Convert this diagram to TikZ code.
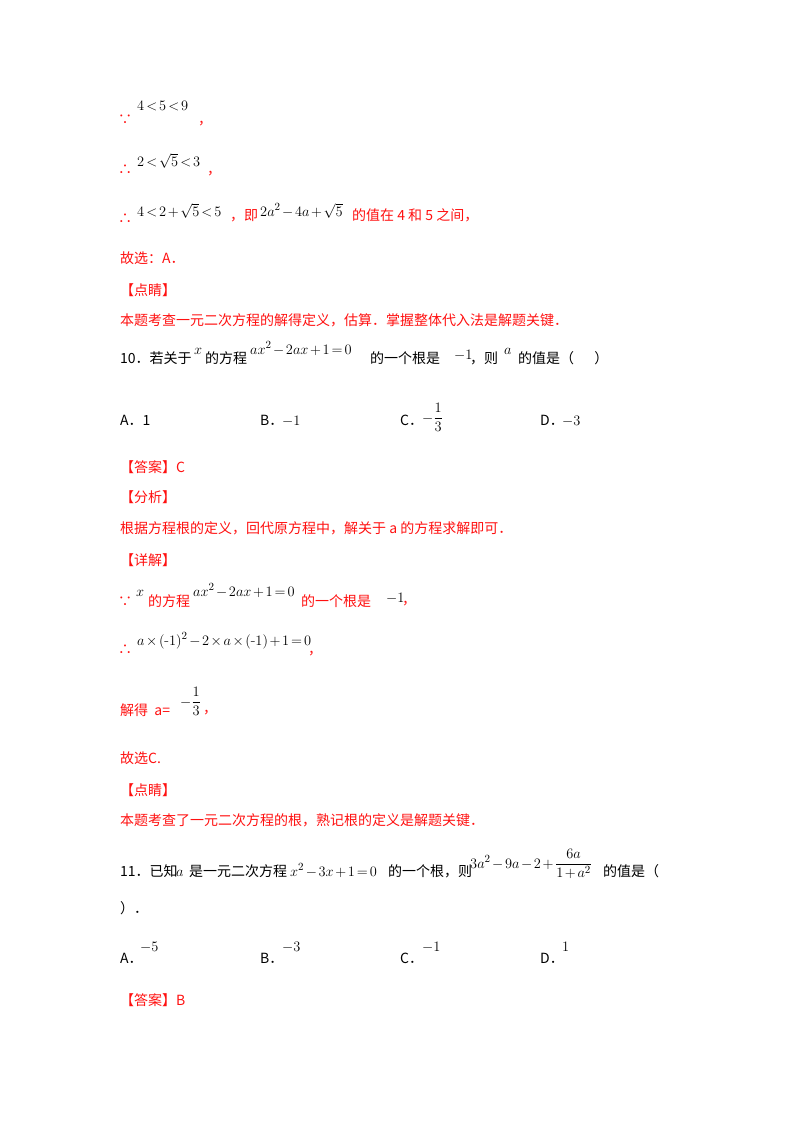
\documentclass[tikz,border=0pt]{standalone}
\usepackage{amsmath}
\usepackage{fontspec}
\newfontfamily\cjk{Noto Sans CJK SC}
\definecolor{rd}{HTML}{FF1010}
\newcommand\tightm{\thickmuskip=2.5mu\medmuskip=2mu\thinmuskip=1.5mu}
\begin{document}
\begin{tikzpicture}[x=1pt,y=-1pt,
  t/.style={anchor=base west,inner sep=0pt,font=\cjk\fontsize{14}{16}\selectfont},
  r/.style={t,text=rd},
  m/.style={anchor=base west,inner sep=0pt,font=\fontsize{15.5}{18}\selectfont\tightm}]
\useasboundingbox (0,0) rectangle (800,1132);
% block 1
\node[r] (a1) at (118,124) {∵};
\node[m] (a2) at (137,110) {$4<5<9$};
\node[r] (a3) at (198,124) {，};
\node[r] (b1) at (118,174) {∴};
\node[m] (b2) at (137,166) {$2<\sqrt5<3$};
\node[r] (b3) at (207,174) {，};
\node[r] (c1) at (118,223) {∴};
\node[m] (c2) at (137,216) {$4<2+\sqrt5<5$};
\node[r] (c3) at (230,220) {，即};
\node[m] (c4) at (260,216) {$2a^2-4a+\sqrt5$};
\node[r] (c5) at (352,220) {的值在 4 和 5 之间，};
\node[r] (d1) at (120,263) {故选：A．};
\node[r] (d2) at (120,295) {【点睛】};
\node[r] (d3) at (120,325) {本题考查一元二次方程的解得定义，估算．掌握整体代入法是解题关键．};
% question 10
\node[t] (q1) at (120,363) {10．若关于};
\node[m] (q2) at (194,354) {$x$};
\node[t] (q3) at (205,363) {的方程};
\node[m] (q4) at (250,354) {$ax^2-2ax+1=0$};
\node[t] (q5) at (370,363) {的一个根是};
\node[m] (q6) at (454,359) {$-1$};
\node[t] (q7) at (470,363) {，则};
\node[m] (q8) at (504,354) {$a$};
\node[t] (q9) at (518,363) {的值是（\quad\ \ ）};
\node[t] (o1) at (120,425) {A．1};
\node[t] (o2) at (260,425) {B．};
\node[m] (o2m) at (282,425) {$-1$};
\node[t] (o3) at (400,425) {C．};
\node[m] (o3m) at (422,422) {$-\dfrac{1}{3}$};
\node[t] (o4) at (540,425) {D．};
\node[m] (o4m) at (562,425) {$-3$};
\node[r] (e1) at (120,472) {【答案】C};
\node[r] (e2) at (120,502) {【分析】};
\node[r] (e3) at (120,533) {根据方程根的定义，回代原方程中，解关于 a 的方程求解即可．};
\node[r] (e4) at (120,565) {【详解】};
\node[r] (f1) at (118,606) {∵};
\node[m] (f2) at (136,596) {$x$};
\node[r] (f3) at (148,606) {的方程};
\node[m] (f4) at (193,596) {$ax^2-2ax+1=0$};
\node[r] (f5) at (301,606) {的一个根是};
\node[m] (f6) at (386,602) {$-1$};
\node[r] (f7) at (402,604) {，};
\node[r] (g1) at (118,654) {∴};
\node[m] (g2) at (137,645) {$a\times(\text{-}1)^2-2\times a\times(\text{-}1)+1=0$};
\node[r] (g3) at (308,654) {，};
\node[r] (h1) at (120,715) {解得\ \ a=};
\node[m] (h2) at (180,706) {$-\dfrac{1}{3}$};
\node[r] (h3) at (203,713) {，};
\node[r] (i1) at (120,763) {故选C.};
\node[r] (i2) at (120,795) {【点睛】};
\node[r] (i3) at (120,825) {本题考查了一元二次方程的根，熟记根的定义是解题关键．};
% question 11
\node[t] (p1) at (120,876) {11．已知};
\node[m] (p2) at (176,876) {$a$};
\node[t] (p3) at (189,876) {是一元二次方程};
\node[m] (p4) at (290,876) {$x^2-3x+1=0$};
\node[t] (p5) at (388,876) {的一个根，则};
\node[m] (p6) at (470,868) {$3a^2-9a-2+\dfrac{6a}{1+a^2}$};
\node[t] (p7) at (603,876) {的值是（};
\node[t] (p8) at (120,913) {）．};
\node[t] (s1) at (120,963) {A．};
\node[m] (s1m) at (140,951) {$-5$};
\node[t] (s2) at (260,963) {B．};
\node[m] (s2m) at (282,951) {$-3$};
\node[t] (s3) at (400,963) {C．};
\node[m] (s3m) at (422,951) {$-1$};
\node[t] (s4) at (540,963) {D．};
\node[m] (s4m) at (562,951) {$1$};
\node[r] (u1) at (120,1005) {【答案】B};
\end{tikzpicture}
\end{document}
